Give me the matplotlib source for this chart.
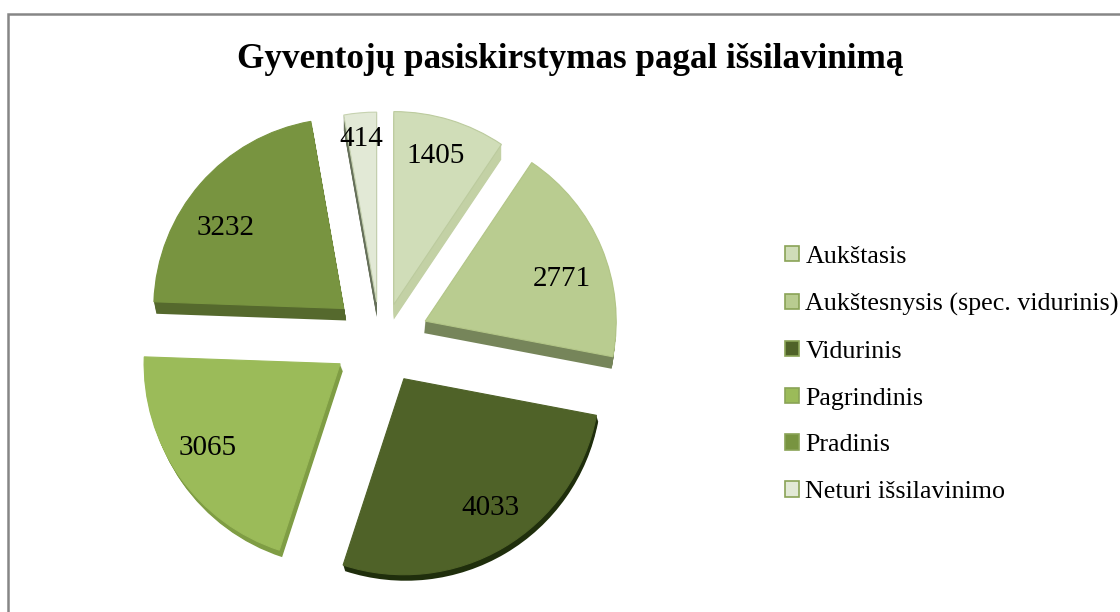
import matplotlib
matplotlib.use('Agg')
import matplotlib.pyplot as plt
from matplotlib.patches import Patch, Wedge

title = 'Gyventojų pasiskirstymas pagal išsilavinimą'
categories = ['Aukštasis', 'Aukštesnysis (spec. vidurinis)', 'Vidurinis',
              'Pagrindinis', 'Pradinis', 'Neturi išsilavinimo']
values = [1405, 2771, 4033, 3065, 3232, 414]

colors = ['#D0DDB8', '#B9CC90', '#4F6228', '#9BBB59', '#789440', '#E2E9D6']
edge_colors = ['#BCCB9E', '#B3C688', '#4F6228', '#9BBB59', '#789440', '#C6D2B0']
side_colors = ['#C3D1A5', '#76855A', '#1F2E0C', '#7F9D44', '#55692D', '#66705A']
explode = [37, 49, 45, 45, 48, 38]
radii = [193, 191, 196, 196, 190, 190]
nudge = [(3, 0), (0, 0), (1, 0), (-3, 2), (0, 0), (0, 0)]
depth = [15, 12, 6, 7, 12, 15]
slant = [0, -0.1, 0.3, 0.4, 0.2, 0]

plt.rcParams['font.family'] = ['Liberation Serif', 'DejaVu Serif']

fig = plt.figure(figsize=(11.2, 6.12), dpi=100)
ax = fig.add_axes([0, 0, 1, 1])

wedges, _ = ax.pie(values, colors=colors, explode=explode, radius=193,
                   center=(380, 272), startangle=90, counterclock=False,
                   wedgeprops={'linewidth': 0.8})

# sonai: tas pats sektorius kelis kartus zemyn
for i, w in enumerate(wedges):
    w.set_zorder(3)
    w.set_edgecolor(edge_colors[i])
    w.set_radius(radii[i])
    x = w.center[0] + nudge[i][0]
    y = w.center[1] + nudge[i][1]
    w.set_center((x, y))
    for k in range(1, depth[i] + 1):
        ax.add_patch(Wedge((x + k * slant[i], y - k), w.r, w.theta1, w.theta2,
                           facecolor=side_colors[i], linewidth=0, zorder=2))

ax.set_aspect('auto')
ax.set_xlim(0, 1120)
ax.set_ylim(0, 612)
ax.axis('off')

# vertes ant sektoriu
label_pos = [(436, 156), (562, 279), (490, 508), (208, 448), (226, 228), (361, 139)]
for v, (x, y) in zip(values, label_pos):
    ax.text(x, 612 - y, str(v), fontsize=21, ha='center', va='center', color='black', zorder=5)

fig.text(570 / 1120, 1 - 60 / 612, title, fontsize=25.3, fontweight='bold', ha='center', va='center')

handles = [Patch(facecolor=c, edgecolor='#8AA356', linewidth=1.2) for c in colors]
ax.legend(handles, categories, loc='upper left', bbox_to_anchor=(785 / 1120, 1 - 246 / 612),
          frameon=False, fontsize=18.7, labelspacing=0.955, handlelength=0.53, handleheight=0.53,
          handletextpad=0.25, borderpad=0, borderaxespad=0)

# remelis: tik virsus ir kaire
ax.plot([8.2, 8.2, 1120], [0, 598, 598], color='#868686', linewidth=1.8, solid_joinstyle='miter', zorder=1)

fig.savefig('out.png', dpi=100, facecolor='white')
